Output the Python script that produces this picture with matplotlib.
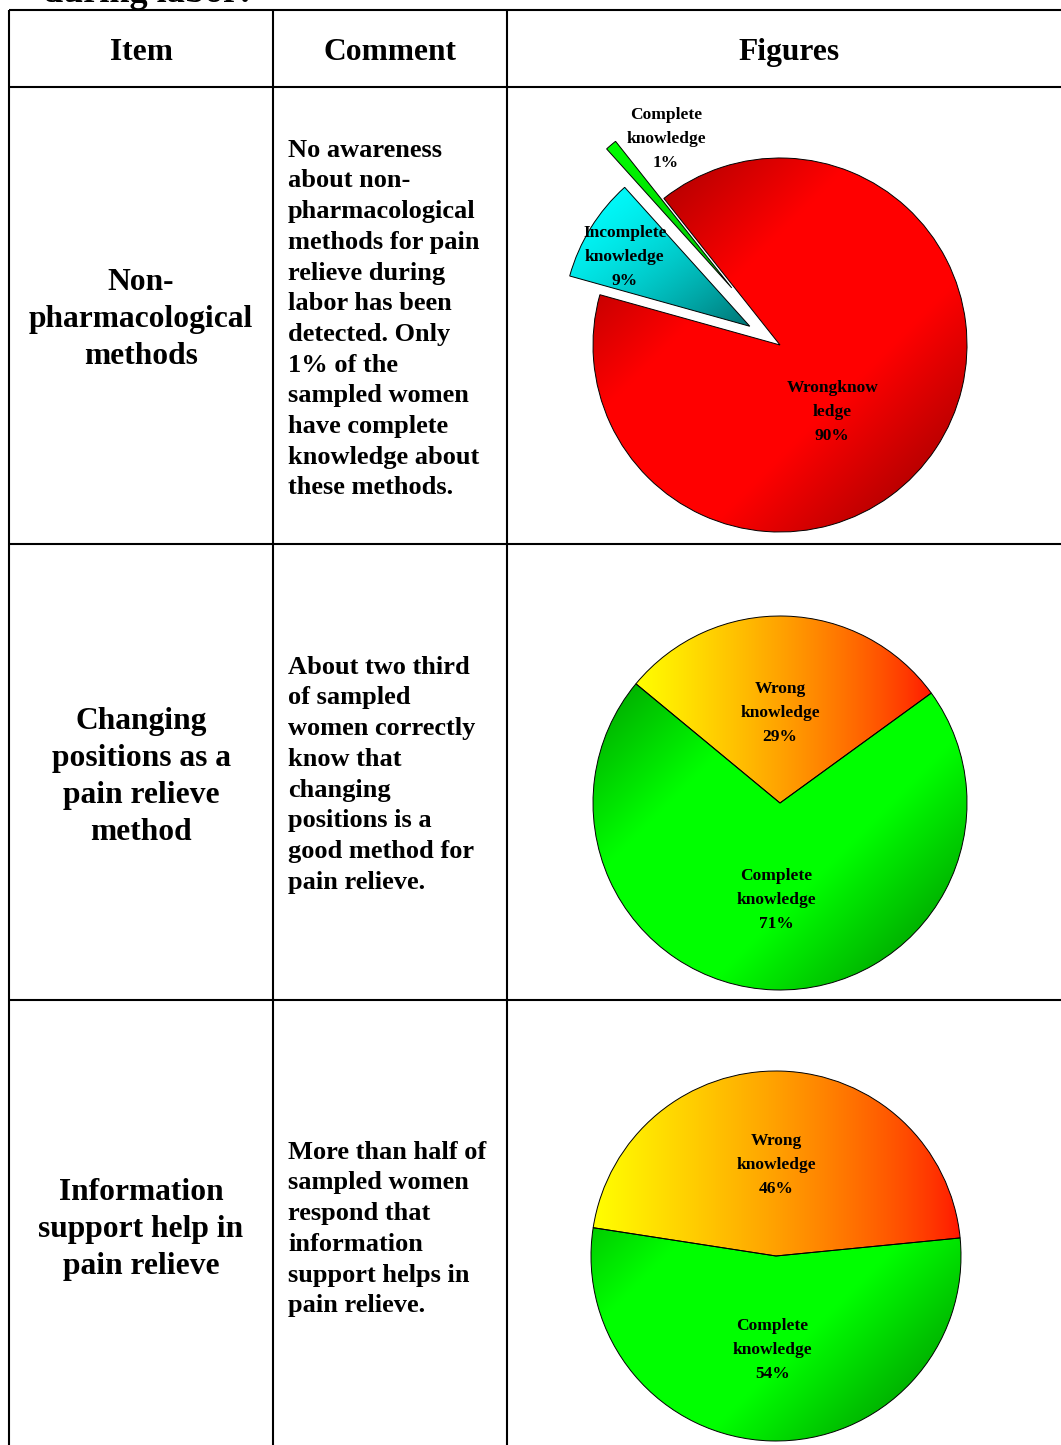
#!/usr/bin/env python3
"""
Knowledge of pain relief during labor: table of items, comments and pie charts.
"""

import numpy as np
import matplotlib.pyplot as plt

W, H = 1061, 1445

headers = ["Item", "Comment", "Figures"]

items = [
    ["Non-", "pharmacological", "methods"],
    ["Changing", "positions as a", "pain relieve", "method"],
    ["Information", "support help in", "pain relieve"],
]

comments = [
    ["No awareness", "about non-", "pharmacological", "methods for pain",
     "relieve during", "labor has been", "detected. Only", "1% of the",
     "sampled women", "have complete", "knowledge about", "these methods."],
    ["About two third", "of sampled", "women correctly", "know that",
     "changing", "positions is a", "good method for", "pain relieve."],
    ["More than half of", "sampled women", "respond that", "information",
     "support helps in", "pain relieve."],
]

# pie 1: non-pharmacological methods
pie1_labels = [["Incomplete", "knowledge"], ["Complete", "knowledge"], ["Wrongknow", "ledge"]]
pie1_values = [9, 1, 90]

# pie 2: changing positions
pie2_labels = [["Wrong", "knowledge"], ["Complete", "knowledge"]]
pie2_values = [29, 71]

# pie 3: information support
pie3_labels = [["Wrong", "knowledge"], ["Complete", "knowledge"]]
pie3_values = [46, 54]

FONT = "Liberation Serif"


def py(y):
    """Pixel row (from top) to data y (from bottom)."""
    return H - y


def text_lines(ax, x, y_first, lines, step, size, ha="center"):
    px = size * 100 / 72
    cap = 0.66 * px
    for i, line in enumerate(lines):
        yc = y_first + i * step
        ax.text(x, py(yc + cap / 2), line, ha=ha, va="baseline",
                fontsize=size, fontweight="bold", family=FONT, color="black")


def grid(n=240):
    return np.meshgrid(np.linspace(0, 1, n), np.linspace(0, 1, n))


def diag_shade(bright, dark):
    bright, dark = np.array(bright), np.array(dark)

    def f(nx, ny):
        t = (nx + (1 - ny)) / 2
        d = np.clip((np.abs(t - 0.5) * 2 - 0.3) / 0.7, 0, 1)[..., None]
        return bright * (1 - d) + dark * d
    return f


def yellow_red(nx, ny):
    g = 0.08 + 0.92 * (1 - nx) ** 0.75
    return np.dstack([np.ones_like(nx), g, np.zeros_like(nx)])


def cyan_shade(nx, ny):
    t = np.clip((nx + (1 - ny)) / 2, 0, 1) ** 1.6
    c = 1 - 0.55 * t
    return np.dstack([np.zeros_like(nx), c, c])


def sliver_shade(nx, ny):
    g = 0.75 + 0.25 * ny
    return np.dstack([np.zeros_like(nx), g, np.zeros_like(nx)])


def fill_gradient(ax, wedge, shade, extent=None):
    if extent is None:
        bb = wedge.get_path().get_extents()
        extent = (bb.x0, bb.x1, bb.y0, bb.y1)
    nx, ny = grid()
    im = ax.imshow(shade(nx, ny), extent=extent, origin="lower",
                   interpolation="bilinear", zorder=1)
    im.set_clip_path(wedge)
    wedge.set_facecolor("none")
    wedge.set_edgecolor("black")
    wedge.set_linewidth(0.7)
    wedge.set_zorder(2)


def draw_pie(ax, values, center_px, radius, startangle, counterclock, explode,
             shades, full, labels, label_pos):
    cx, cy = center_px[0], py(center_px[1])
    # pie() offsets exploded wedges in data units, so scale by the radius
    if explode is not None:
        explode = [e * radius for e in explode]
    wedges, _ = ax.pie(values, center=(cx, cy), radius=radius,
                       startangle=startangle, counterclock=counterclock,
                       explode=explode, frame=True)
    circle = (cx - radius, cx + radius, cy - radius, cy + radius)
    for w, shade, use_full in zip(wedges, shades, full):
        fill_gradient(ax, w, shade, circle if use_full else None)
    for lines, val, (dx, dy) in zip(labels, values, label_pos):
        x = cx + dx * radius
        yc = center_px[1] - dy * radius
        text_lines(ax, x, yc - 24, lines + [f"{val}%"], 24, 12.5)


def main():
    fig = plt.figure(figsize=(W / 100, H / 100), dpi=100)
    ax = fig.add_axes([0, 0, 1, 1])

    # heading cut off at the top edge
    ax.text(43, py(2.5), "during labor:", ha="left", va="baseline",
            fontsize=26, fontweight="bold", family=FONT)

    # table grid
    lw = 1.5
    for x in (9, 273, 507):
        ax.plot([x, x], [py(10), py(H)], color="black", lw=lw, solid_capstyle="butt")
    for y in (10, 87, 544, 1000):
        ax.plot([9, W], [py(y), py(y)], color="black", lw=lw, solid_capstyle="butt")

    # header row
    for x, h in zip((141, 390, 789), headers):
        text_lines(ax, x, 50, [h], 37, 22.7)

    # item column
    for lines, y0 in zip(items, (280, 719, 1190)):
        text_lines(ax, 141, y0, lines, 37, 22.7)

    # comment column
    for lines, y0 in zip(comments, (148, 665, 1150)):
        text_lines(ax, 288, y0, lines, 30.7, 19, ha="left")

    red = diag_shade((1, 0, 0), (0.55, 0, 0))
    green = diag_shade((0, 1, 0), (0, 0.5, 0))

    draw_pie(ax, pie1_values, (780, 345), 187, 164.4, False, [0.19, 0.4, 0],
             [cyan_shade, sliver_shade, red], [False, False, True],
             pie1_labels, [(-0.83, 0.48), (-0.61, 1.11), (0.28, -0.35)])

    draw_pie(ax, pie2_values, (780, 803), 187, 36, True, None,
             [yellow_red, green], [False, True],
             pie2_labels, [(0.0, 0.49), (-0.02, -0.51)])

    draw_pie(ax, pie3_values, (776, 1256), 185, 5.6, True, None,
             [yellow_red, green], [False, True],
             pie3_labels, [(0.0, 0.50), (-0.02, -0.50)])

    ax.set_xlim(0, W)
    ax.set_ylim(0, H)
    ax.set_aspect("auto")
    ax.axis("off")

    fig.savefig("out.png", dpi=100)


if __name__ == "__main__":
    main()
